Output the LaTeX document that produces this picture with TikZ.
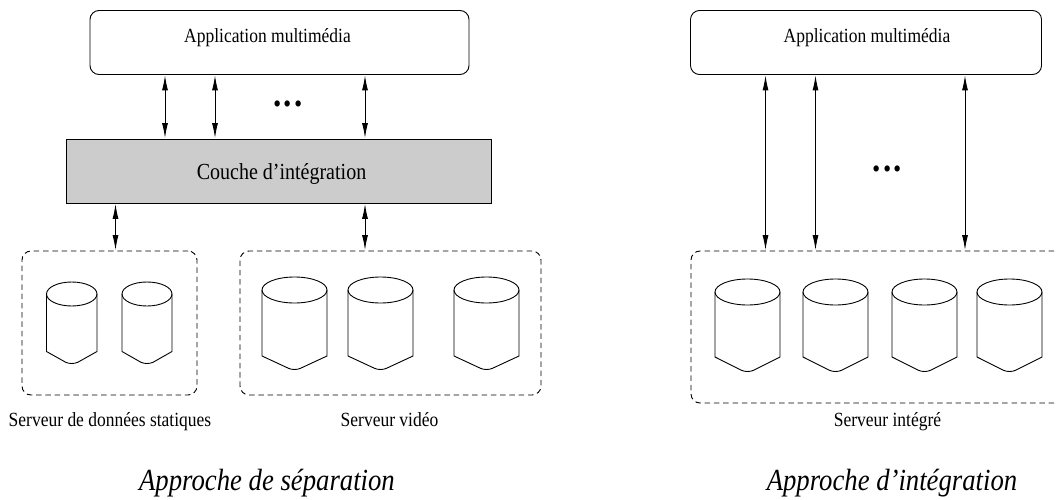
\documentclass[tikz,border=0pt]{standalone}
\usepackage{fontspec}
\setmainfont[FakeStretch=0.87]{Liberation Serif}
\usetikzlibrary{arrows.meta}
\tikzset{
  x=1pt,y=-1pt,
  line/.style={line width=0.9pt,draw=black},
  appbox/.style={line,draw,rounded corners=9pt,minimum height=64pt,inner sep=0pt},
  layerbox/.style={line,draw,fill=black!20,minimum height=64pt,inner sep=0pt},
  serverbox/.style={line width=0.9pt,draw=black,dash pattern=on 5.5pt off 3.8pt,rounded corners=9pt,inner sep=0pt},
  apptext/.style={inner sep=0pt,anchor=base,font=\fontsize{20.1}{22}\selectfont},
  layertext/.style={inner sep=0pt,anchor=base,font=\fontsize{23}{26}\selectfont},
  lab/.style={inner sep=0pt,anchor=base,font=\fontsize{20.1}{22}\selectfont},
  title/.style={inner sep=0pt,anchor=base,font=\fontsize{30.7}{32}\selectfont\itshape},
  dots/.style={inner sep=0pt,anchor=base,font=\fontsize{38}{38}\selectfont\bfseries},
  link/.style={line width=0.9pt,black,{Latex[length=15pt,width=6pt]}-{Latex[length=15pt,width=6pt]},shorten <=0.5pt,shorten >=0.5pt},
  cyl/.style={line width=0.9pt,draw=black},
}
% x left, x right, y top, y ellipse centre, y side bottom, y tip
\newcommand{\dbcyl}[6]{%
  \pgfmathsetmacro{\cxm}{(#1+#2)/2}%
  \pgfmathsetmacro{\rx}{(#2-#1)/2}%
  \pgfmathsetmacro{\ry}{#4-#3}%
  \pgfmathsetmacro{\ys}{#6-1.2}%
  \pgfmathsetmacro{\yc}{#6+0.4}%
  \draw[cyl] (\cxm,#4) ellipse [x radius=\rx, y radius=\ry];
  \draw[cyl] (#1,#4) -- (#1,#5) -- (\cxm-6,\ys) .. controls (\cxm-2.5,\yc) and (\cxm+2.5,\yc) .. (\cxm+6,\ys) -- (#2,#5) -- (#2,#4);
}
\begin{document}
\begin{tikzpicture}
\useasboundingbox (0,0) rectangle (1057,500);
\clip (0,0) rectangle (1057,500);
% left
\node[appbox,minimum width=379pt] (appL) at (279.5,42.5) {};
\node[apptext] (appLt) at (267.5,43) {Application multimédia};
\node[layerbox,minimum width=425pt] (layer) at (278.5,171) {};
\node[layertext] (layert) at (281.5,179) {Couche d’intégration};
\node[serverbox,minimum width=175pt,minimum height=144pt,draw] (srvA) at (109.5,323) {};
\node[serverbox,minimum width=301pt,minimum height=144pt,draw] (srvB) at (390.5,323) {};
\coordinate (a1) at (165,0);
\coordinate (a2) at (215,0);
\coordinate (a3) at (365,0);
\coordinate (b1) at (115.5,0);
\draw[link] (a1 |- appL.south) -- (a1 |- layer.north);
\draw[link] (a2 |- appL.south) -- (a2 |- layer.north);
\draw[link] (a3 |- appL.south) -- (a3 |- layer.north);
\draw[link] (b1 |- layer.south) -- (b1 |- srvA.north);
\draw[link] (a3 |- layer.south) -- (a3 |- srvB.north);
\node[dots] (dotsL) at (288,107) {.\kern2.2pt.\kern2.2pt.};
\dbcyl{46.5}{97}{282}{294}{351.5}{363.5}
\dbcyl{122}{172}{282}{294}{351.5}{363.5}
\dbcyl{262}{327}{277}{290}{356}{369.5}
\dbcyl{348}{413}{277}{290}{356}{369.5}
\dbcyl{454}{519}{277}{290}{356}{369.5}
\node[lab] (labA) at (110,426) {Serveur de données statiques};
\node[lab] (labB) at (389.5,426) {Serveur vidéo};
\node[title] (titleL) at (267,490) {Approche de séparation};
% right
\node[appbox,minimum width=351pt] (appR) at (866,42.5) {};
\node[apptext] (appRt) at (867,43) {Application multimédia};
\node[serverbox,minimum width=400pt,minimum height=152pt,draw] (srvC) at (891,327) {};
\coordinate (c1) at (765.5,0);
\coordinate (c2) at (815.5,0);
\coordinate (c3) at (965,0);
\draw[link] (c1 |- appR.south) -- (c1 |- srvC.north);
\draw[link] (c2 |- appR.south) -- (c2 |- srvC.north);
\draw[link] (c3 |- appR.south) -- (c3 |- srvC.north);
\node[dots] (dotsR) at (887.5,171) {.\kern2.2pt.\kern2.2pt.};
\dbcyl{715}{780}{279}{292}{357}{371.5}
\dbcyl{803}{868}{279}{292}{357}{371.5}
\dbcyl{892}{957}{279}{292}{357}{371.5}
\dbcyl{977}{1042}{279}{292}{357}{371.5}
\node[lab] (labC) at (887.5,426) {Serveur intégré};
\node[title] (titleR) at (892,490) {Approche d’intégration};
\end{tikzpicture}
\end{document}
